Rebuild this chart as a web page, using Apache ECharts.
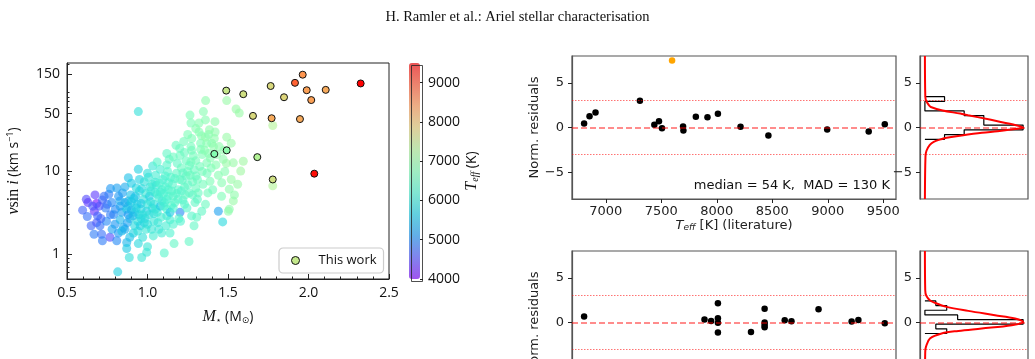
<!DOCTYPE html>
<html>
<head>
<meta charset="utf-8">
<script src="https://cdn.jsdelivr.net/npm/echarts@6.0.0/dist/echarts.min.js"></script>
<style>
html, body { margin: 0; padding: 0; background: #fff; }
#main { width: 1035px; height: 359px; }
</style>
</head>
<body>
<div id="main"></div>
<script>
// left panel: literature sample, M*, v sin i, Teff (one line per mass column)
var bgMass = [
    0.597, 0.626, 0.62, 0.63, 0.65,
    0.674, 0.684, 0.67, 0.684, 0.668, 0.69, 0.66,
    0.705, 0.715, 0.72, 0.74, 0.73, 0.745, 0.70, 0.71, 0.72, 0.75,
    0.767, 0.778, 0.76, 0.79, 0.798, 0.78, 0.77, 0.77, 0.80,
    0.809, 0.815, 0.819, 0.829, 0.84, 0.83, 0.845, 0.81, 0.85, 0.84, 0.83, 0.82,
    0.86, 0.871, 0.871, 0.887, 0.881, 0.881, 0.87, 0.89, 0.895, 0.86, 0.875, 0.89, 0.88, 0.88, 0.86, 0.90,
    0.912, 0.943, 0.943, 0.943, 0.92, 0.935, 0.925, 0.94, 0.91, 0.93, 0.915, 0.948, 0.92, 0.90, 0.94, 0.90, 0.93, 0.95,
    0.964, 0.964, 0.995, 1.0, 0.96, 0.975, 0.985, 0.99, 0.955, 0.97, 0.98, 0.995, 0.96, 0.99, 0.95, 0.97, 0.98, 0.96,
    1.016, 1.032, 1.036, 1.01, 1.02, 1.04, 1.045, 1.03, 1.005, 1.025, 1.048, 1.012, 1.04, 1.0, 1.02, 1.03, 1.05, 1.0, 1.04, 1.0,
    1.078, 1.088, 1.104, 1.06, 1.07, 1.09, 1.065, 1.08, 1.095, 1.055, 1.085, 1.06, 1.09, 1.075, 1.06, 1.08, 1.07, 1.05, 1.10, 1.10,
    1.135, 1.12, 1.13, 1.14, 1.11, 1.145, 1.125, 1.105, 1.14, 1.115, 1.13, 1.148, 1.12, 1.11, 1.12, 1.13, 1.12, 1.14, 1.12,
    1.16, 1.165, 1.16, 1.177, 1.202, 1.155, 1.18, 1.19, 1.17, 1.185, 1.195, 1.16, 1.15, 1.16, 1.17, 1.18, 1.19,
    1.202, 1.225, 1.22, 1.23, 1.24, 1.21, 1.245, 1.235, 1.215, 1.24, 1.205, 1.25, 1.23, 1.20, 1.21, 1.22, 1.23, 1.20,
    1.258, 1.264, 1.27, 1.274, 1.274, 1.289, 1.26, 1.28, 1.29, 1.27, 1.295, 1.285, 1.265, 1.30, 1.275, 1.25, 1.26, 1.28, 1.27, 1.25,
    1.306, 1.32, 1.337, 1.347, 1.31, 1.325, 1.34, 1.33, 1.315, 1.345, 1.335, 1.30, 1.34, 1.32, 1.30, 1.31, 1.33, 1.30,
    1.361, 1.368, 1.368, 1.388, 1.399, 1.36, 1.38, 1.37, 1.39, 1.355, 1.385, 1.375, 1.395, 1.36, 1.38, 1.36,
    1.419, 1.44, 1.461, 1.41, 1.425, 1.43, 1.415, 1.44, 1.405, 1.445, 1.42,
    1.467, 1.492, 1.492, 1.502, 1.508, 1.508, 1.47, 1.48, 1.49, 1.46, 1.475,
    1.533, 1.533, 1.55, 1.57, 1.579, 1.595, 1.52, 1.54, 1.56, 1.52, 1.778, 1.778
];
var bgVsini = [
    3.4, 2.85, 4.6, 4.2, 2.2,
    5.2, 4.1, 3.3, 2.4, 1.74, 2.9, 3.8,
    2.2, 1.74, 4.5, 3.6, 5.0, 2.5, 3.8, 2.7, 1.45, 4.0,
    1.6, 4.2, 5.3, 3.0, 2.3, 2.0, 6.2, 3.0, 3.5,
    1.45, 0.61, 1.8, 4.4, 3.2, 2.6, 5.5, 6.3, 2.1, 1.9, 3.8, 5.0,
    2.0, 1.38, 1.17, 0.91, 4.4, 8.4, 3.5, 2.7, 5.2, 6.5, 2.4, 1.6, 3.0, 3.8, 4.2, 3.4,
    1.8, 1.34, 10.6, 53, 3.2, 4.0, 5.0, 2.5, 2.9, 6.3, 4.7, 3.0, 2.2, 7.2, 1.9, 4.3, 3.6, 8.0,
    0.91, 6.2, 1.05, 1.23, 3.5, 4.6, 2.7, 5.4, 2.2, 1.6, 7.5, 3.3, 4.1, 2.0, 5.8, 3.0, 2.4, 2.7,
    6.5, 11.6, 1.66, 3.0, 4.3, 2.5, 5.6, 3.6, 8.5, 2.0, 7.4, 5.0, 4.0, 4.0, 5.8, 7.0, 3.5, 2.3, 3.1, 9.5,
    10.6, 1.8, 1.03, 3.2, 4.8, 6.0, 2.4, 3.8, 8.0, 6.8, 2.8, 13, 4.4, 7.2, 5.3, 5.6, 2.0, 9.0, 3.8, 5.4,
    14, 3.5, 5.0, 2.6, 6.5, 8.5, 10, 4.2, 1.8, 2.2, 7.3, 3.9, 12, 8.8, 4.6, 6.0, 2.9, 3.2, 16.5,
    5.0, 1.34, 2.3, 20.7, 3.2, 7.0, 9.5, 6.0, 4.2, 12.5, 2.7, 15, 5.8, 3.6, 8.2, 5.4, 4.6,
    15.6, 23, 4.5, 6.5, 8.8, 11, 3.6, 5.2, 7.8, 13.5, 2.5, 10, 17, 8.0, 5.8, 9.6, 4.0, 19,
    1.42, 48, 38.6, 18, 2.9, 2.2, 5.5, 7.5, 10.5, 13, 4.2, 15.5, 9.0, 6.3, 25, 6.9, 11.8, 5.2, 20, 28,
    2.8, 38.6, 3.3, 53, 8, 11.5, 16, 22, 5.5, 7.0, 27, 13.5, 10, 30, 8.8, 4.6, 18.5, 33,
    72, 22, 12.7, 7.6, 22, 26, 28, 9.5, 14.5, 18, 32, 5.5, 11, 4.0, 16.5, 42,
    40, 3.3, 7.3, 20, 12, 16, 25, 9.0, 6.0, 20, 30,
    2.45, 72, 26, 3.3, 3.5, 6.1, 14, 10, 12.5, 5, 18,
    4.4, 12.7, 57, 51, 10.1, 13.3, 8, 5.2, 7, 22, 36, 6.7
];
var bgTeff = [
    4700, 4800, 4500, 4400, 4700,
    4400, 4100, 4300, 4600, 4900, 4700, 4600,
    4800, 4800, 4700, 4900, 4800, 5000, 4600, 4700, 4900, 4800,
    4500, 5000, 4900, 5000, 5100, 5200, 5100, 4900, 5000,
    5000, 5700, 5100, 5300, 5200, 5400, 5200, 5200, 5300, 5500, 5200, 5100,
    5300, 5400, 5600, 5900, 5400, 5500, 5600, 5700, 5500, 5300, 5200, 5500, 5100, 5500, 5300, 5400,
    5700, 5800, 5700, 5900, 5600, 5700, 5500, 5900, 5400, 5800, 5600, 5700, 5800, 5600, 5900, 5600, 5700, 5700,
    6000, 5800, 6000, 6000, 5800, 5900, 5800, 6000, 5700, 5900, 5900, 5700, 5600, 6000, 5800, 5900, 5800, 5800,
    5900, 6000, 6100, 5900, 6000, 6000, 6100, 5800, 6000, 6000, 6000, 5700, 5900, 5900, 6000, 6100, 6000, 5900, 5900, 5900,
    6100, 6100, 6300, 6000, 6100, 6200, 6000, 5600, 6100, 6000, 6100, 6300, 6000, 6200, 6100, 6100, 6000, 6100, 6100, 6200,
    6400, 6200, 6200, 6100, 6200, 6300, 6300, 6100, 6200, 6100, 6200, 6300, 6300, 6200, 6200, 6200, 6100, 5600, 6400,
    6300, 6400, 6200, 6500, 5000, 6300, 6400, 6300, 6300, 6400, 6300, 6500, 6300, 6200, 6300, 6300, 6300,
    6500, 6600, 6300, 6400, 6400, 6500, 6300, 6400, 6400, 6500, 6200, 6500, 6500, 6400, 6300, 6400, 6300, 6500,
    6400, 6700, 6700, 6600, 6300, 6400, 6400, 6500, 6500, 6600, 6400, 6600, 6500, 6500, 6700, 6400, 6500, 6400, 6600, 6700,
    6400, 6800, 6400, 6800, 6500, 6600, 6700, 6700, 6500, 6600, 6800, 6600, 6600, 6800, 6500, 6400, 6700, 6800,
    6900, 6800, 6700, 6700, 6800, 6900, 6800, 6600, 6800, 6800, 6900, 6600, 6700, 6500, 6800, 6800,
    6900, 5200, 6800, 6900, 6800, 6900, 6900, 6800, 6600, 6900, 6900,
    5800, 7000, 7000, 6900, 6900, 6900, 6900, 6800, 7000, 6700, 6900,
    7000, 7000, 7000, 7000, 7100, 7100, 7000, 6900, 7000, 7000, 7300, 7300
];

// left panel: "This work"
var ourMass = [1.489, 1.595, 1.765, 1.848, 1.916, 1.964, 1.989, 2.017, 2.107, 2.324, 1.655, 1.771, 1.947, 1.415, 1.492, 1.682, 1.778, 2.036];
var ourVsini = [95, 86, 108, 79, 118, 148, 96, 73, 97, 116, 47, 44, 43, 16.3, 18, 14.9, 8.0, 9.4];
var ourTeff = [7500, 7600, 7700, 7750, 8800, 8400, 8300, 8300, 8200, 9500, 7700, 8200, 8200, 6800, 6900, 7300, 7600, 9400];

// tick values
var vsiniMajor = [1, 10, 50, 150];
var vsiniMinor = [0.6, 0.7, 0.8, 0.9, 2, 3, 4, 5, 6, 7, 8, 9, 20, 30, 40, 60, 70, 80, 90, 200];
var teffTicks = [4000, 5000, 6000, 7000, 8000, 9000];
var litTicks = [7000, 7500, 8000, 8500, 9000, 9500];
var resTicks = [-5, 0, 5];

// top right: residuals vs literature Teff
var resTeff = [6804, 6853, 6907, 7307, 7437, 7479, 7506, 7696, 7699, 7811, 7916, 8010, 8214, 8465, 8995, 9369, 9514];
var resTop = [0.44, 1.26, 1.67, 3.0, 0.3, 0.7, -0.07, 0.1, -0.33, 1.2, 1.15, 1.55, 0.07, -0.89, -0.22, -0.44, 0.37];
var outlierTeff = [7597];
var outlierRes = [7.5];

// bottom right: residuals (x axis cut off)
var resBotX = [6804, 7889, 7949, 8010, 8010, 8010, 8010, 8308, 8431, 8431, 8431, 8431, 8612, 8673, 8917, 9215, 9276, 9514];
var resBot = [0.67, 0.34, 0.18, 2.16, 0.48, -0.04, -1.12, -1.05, 1.53, 0.0, -0.27, -0.53, 0.26, 0.15, 1.49, 0.11, 0.29, -0.08];

// histograms of the residuals
var histTopEdges = [-1.32, -0.79, -0.26, 0.27, 0.80, 1.33, 1.86, 2.39, 2.92, 3.45];
var histTopCounts = [1, 2, 5, 3, 3, 2, 0, 0, 1];
var histBotEdges = [-1.23, -0.71, -0.19, 0.33, 0.85, 1.37, 1.89, 2.41];
var histBotCounts = [2, 1, 9, 3, 0, 2, 1];

// fitted curves
var curveTopRes = [-8, -3.2, -2.6, -1.95, -1.6, -1.33, -1.15, -0.9, -0.59, -0.41, -0.22, 0, 0.33, 0.89, 1.37, 1.56, 1.9, 2.3, 2.5, 3.0, 3.5, 8];
var curveTopCount = [0, 0.03, 0.08, 0.25, 0.45, 0.8, 1.1, 1.85, 2.9, 3.7, 4.4, 5.0, 4.5, 3.3, 2.2, 1.8, 0.9, 0.3, 0.2, 0.06, 0.02, 0];
var curveBotRes = [-8, -3.3, -2.7, -1.8, -1.23, -0.94, -0.67, -0.3, 0.05, 0.45, 0.82, 1.3, 1.75, 2.2, 2.5, 3.0, 3.6, 8];
var curveBotCount = [0, 0.03, 0.1, 0.46, 1.53, 3.06, 5.2, 7.96, 9.0, 8.26, 6.42, 3.97, 1.99, 0.92, 0.45, 0.12, 0.03, 0];

// ---------------------------------------------------------------
var chart = echarts.init(document.getElementById('main'));

var leftFont = 'Open Sans';
var rightFont = 'DejaVu Sans';
var serif = 'Liberation Serif';

// matplotlib "rainbow"
var rainbow = ['#8000ff', '#4d4ffc', '#1a96f3', '#1acee3', '#4df3ce', '#80ffb4',
               '#b3f396', '#e6ce74', '#ff964f', '#ff4f28', '#ff0000'];
var rainbowPale = rainbow.map(function (c) {
    var r = parseInt(c.substr(1, 2), 16), g = parseInt(c.substr(3, 2), 16), b = parseInt(c.substr(5, 2), 16);
    return 'rgba(' + r + ',' + g + ',' + b + ',0.6)';
});

function zip3(a, b, c) {
    var out = [];
    for (var i = 0; i < a.length; i++) {
        out.push([a[i], Math.log10(b[i]), c[i]]);
    }
    return out;
}

function pairs(a, b) {
    var out = [];
    for (var i = 0; i < a.length; i++) {
        out.push([a[i], b[i]]);
    }
    return out;
}

// step outline of a horizontal histogram
function stepOutline(edges, counts) {
    var pts = [[0, edges[0]]];
    for (var i = 0; i < counts.length; i++) {
        pts.push([counts[i], edges[i]]);
        pts.push([counts[i], edges[i + 1]]);
    }
    pts.push([0, edges[edges.length - 1]]);
    return pts;
}

function resLabel(v) {
    return v < 0 ? '\u2212' + Math.abs(v) : String(v);
}

function plain(v) {
    return String(v);
}

function refLines() {
    return {
        silent: true,
        symbol: ['none', 'none'],
        label: { show: false },
        animation: false,
        data: [
            { yAxis: 0, lineStyle: { color: 'rgba(255,0,0,0.6)', type: [6, 3], width: 1.5 } },
            { yAxis: 3, lineStyle: { color: 'rgba(255,0,0,0.55)', type: [1.5, 1.5], width: 1.2 } },
            { yAxis: -3, lineStyle: { color: 'rgba(255,0,0,0.55)', type: [1.5, 1.5], width: 1.2 } }
        ]
    };
}

function resYAxis(grid, withName) {
    return {
        gridIndex: grid, type: 'value', min: -8, max: 8,
        axisLine: { show: true, onZero: false, lineStyle: { color: '#555', width: 1.2 } },
        splitLine: { show: false },
        axisTick: { customValues: resTicks, length: 4, lineStyle: { color: '#222' } },
        axisLabel: { customValues: resTicks, formatter: resLabel, margin: 8,
                     fontFamily: rightFont, fontSize: 13, color: '#222' },
        name: withName ? 'Norm. residuals' : '',
        nameLocation: 'middle', nameGap: 27,
        nameTextStyle: { fontFamily: rightFont, fontSize: 13, color: '#222' }
    };
}

function litXAxis(grid, withName) {
    return {
        gridIndex: grid, type: 'value', min: 6695, max: 9615,
        axisLine: { show: true, onZero: false, lineStyle: { color: '#555', width: 1.2 } },
        splitLine: { show: false },
        axisTick: { customValues: litTicks, length: 4, lineStyle: { color: '#222' } },
        axisLabel: { customValues: litTicks, formatter: plain, margin: 6,
                     fontFamily: rightFont, fontSize: 13, color: '#222' },
        name: withName ? '{it|T}{sub|eff} [K] (literature)' : '',
        nameLocation: 'middle', nameGap: 17,
        nameTextStyle: {
            fontFamily: rightFont, fontSize: 13, color: '#222',
            rich: {
                it: { fontFamily: rightFont, fontStyle: 'italic', fontSize: 13, color: '#222' },
                sub: { fontFamily: rightFont, fontStyle: 'italic', fontSize: 9, color: '#222', verticalAlign: 'bottom' }
            }
        }
    };
}

function countXAxis(grid, lo, hi) {
    return {
        gridIndex: grid, type: 'value', min: lo, max: hi,
        axisLine: { show: false, onZero: false }, axisTick: { show: false },
        axisLabel: { show: false }, splitLine: { show: false }
    };
}

function panel(left, top, width, height, extra) {
    var g = { left: left, top: top, width: width, height: height, outerBoundsMode: 'none', containLabel: false };
    return Object.assign(g, extra || {});
}

var rightFrame = { show: true, borderColor: '#555', borderWidth: 1.2 };

var option = {
    animation: false,
    backgroundColor: '#fff',
    title: {
        text: 'H. Ramler et al.: Ariel stellar characterisation',
        left: 'center', top: 5,
        textStyle: { fontFamily: serif, fontSize: 14.5, fontWeight: 'normal', color: '#111' }
    },
    grid: [
        panel(67, 63, 322, 216, { show: true, borderColor: '#222', borderWidth: 1 }),
        panel(409, 63, 11, 216),
        panel(572, 56, 324, 143, rightFrame),
        panel(920, 56, 108, 143, rightFrame),
        panel(572, 251, 324, 143, rightFrame),
        panel(920, 251, 108, 143, rightFrame)
    ],
    legend: {
        left: 279, top: 248,
        data: [{ name: 'This work', icon: 'circle',
                 itemStyle: { color: '#c4e88c', borderColor: '#111', borderWidth: 1, opacity: 1 } }],
        itemWidth: 8, itemHeight: 8,
        padding: [6, 7, 6, 12],
        borderColor: '#ccc', borderWidth: 1.2, borderRadius: 4,
        backgroundColor: 'rgba(255,255,255,0.8)',
        selectedMode: false,
        textStyle: { fontFamily: leftFont, fontSize: 13, color: '#111', padding: [0, 0, 0, 14] }
    },
    visualMap: [
        {
            type: 'continuous', show: true, seriesIndex: 0, dimension: 2,
            min: 4000, max: 9500, calculable: false, orient: 'vertical',
            left: 409, top: 63, padding: 0, itemWidth: 11, itemHeight: 216,
            inRange: { color: rainbowPale }
        },
        {
            type: 'continuous', show: false, seriesIndex: 1, dimension: 2,
            min: 4000, max: 9500, inRange: { color: rainbow }
        }
    ],
    xAxis: [
        {
            gridIndex: 0, type: 'value', min: 0.5, max: 2.5, interval: 0.5,
            axisLine: { show: true, onZero: false, lineStyle: { color: '#222' } },
            splitLine: { show: false },
            axisTick: { inside: true, length: 5, lineStyle: { color: '#222' } },
            minorTick: { show: true, splitNumber: 5, length: 2.5, lineStyle: { color: '#222' } },
            axisLabel: { formatter: function (v) { return v.toFixed(1); }, margin: 7,
                         fontFamily: leftFont, fontSize: 14, color: '#111' },
            name: '{it|M}{sub|\u22c6} (M{sub|\u2299})',
            nameLocation: 'middle', nameGap: 30,
            nameTextStyle: {
                fontFamily: leftFont, fontSize: 14, color: '#111',
                rich: {
                    it: { fontFamily: serif, fontStyle: 'italic', fontSize: 16, color: '#111' },
                    sub: { fontFamily: 'DejaVu Sans', fontSize: 9, color: '#111', verticalAlign: 'bottom' }
                }
            }
        },
        { gridIndex: 1, type: 'value', min: 0, max: 1, show: false },
        litXAxis(2, true),
        countXAxis(3, -0.25, 5.25),
        litXAxis(4, false),
        countXAxis(5, -0.45, 9.45)
    ],
    yAxis: [
        {
            gridIndex: 0, type: 'value', min: Math.log10(0.5), max: Math.log10(205),
            axisLine: { show: true, onZero: false, lineStyle: { color: '#222' } },
            splitLine: { show: false },
            axisTick: { inside: true, length: 5, customValues: vsiniMajor.map(Math.log10), lineStyle: { color: '#222' } },
            axisLabel: {
                customValues: vsiniMajor.map(Math.log10),
                formatter: function (v) { return String(Math.round(Math.pow(10, v))); },
                margin: 7, fontFamily: leftFont, fontSize: 14, color: '#111'
            },
            name: '{it|v}{rm|sin}{it| i} (km s{sup|\u22121})',
            nameLocation: 'middle', nameGap: 45,
            nameTextStyle: {
                fontFamily: leftFont, fontSize: 14, color: '#111',
                rich: {
                    it: { fontFamily: serif, fontStyle: 'italic', fontSize: 16, color: '#111' },
                    rm: { fontFamily: serif, fontSize: 16, color: '#111' },
                    sup: { fontFamily: leftFont, fontSize: 9, color: '#111', verticalAlign: 'top' }
                }
            }
        },
        {
            gridIndex: 1, type: 'value', position: 'right', min: 4000, max: 9500,
            axisLine: { show: false, onZero: false }, splitLine: { show: false },
            axisTick: { customValues: teffTicks, length: 3, lineStyle: { color: '#222' } },
            axisLabel: { customValues: teffTicks, formatter: plain, margin: 8,
                         fontFamily: leftFont, fontSize: 14, color: '#111' },
            name: '{it|T}{sub|eff} (K)',
            nameLocation: 'middle', nameRotate: 90, nameGap: 31,
            nameTextStyle: {
                fontFamily: leftFont, fontSize: 14, color: '#111',
                rich: {
                    it: { fontFamily: serif, fontStyle: 'italic', fontSize: 16, color: '#111' },
                    sub: { fontFamily: serif, fontStyle: 'italic', fontSize: 10, color: '#111', verticalAlign: 'bottom' }
                }
            }
        },
        resYAxis(2, true),
        resYAxis(3, false),
        resYAxis(4, true),
        resYAxis(5, false),
        {
            gridIndex: 0, type: 'value', position: 'left', offset: 0,
            min: Math.log10(0.5), max: Math.log10(205),
            axisLine: { show: false, onZero: false }, splitLine: { show: false }, axisLabel: { show: false },
            axisTick: { inside: true, length: 2.5, customValues: vsiniMinor.map(Math.log10), lineStyle: { color: '#222' } }
        }
    ],
    graphic: [
        {
            type: 'text', right: 145, top: 179, z: 50,
            style: { text: 'median = 54 K,  MAD = 130 K', font: '13px "DejaVu Sans"', fill: '#111' }
        },
        {
            type: 'rect', left: 409, top: 63, z: 50, silent: true,
            shape: { x: 0, y: 0, width: 11, height: 216 },
            style: { fill: null, stroke: '#222', lineWidth: 0.8 }
        }
    ],
    series: [
        {
            type: 'scatter', name: 'literature', xAxisIndex: 0, yAxisIndex: 0,
            symbolSize: 9, data: zip3(bgMass, bgVsini, bgTeff), silent: true,
            itemStyle: { opacity: 1 }
        },
        {
            type: 'scatter', name: 'This work', xAxisIndex: 0, yAxisIndex: 0,
            symbolSize: 7, data: zip3(ourMass, ourVsini, ourTeff), silent: true,
            itemStyle: { borderColor: '#111', borderWidth: 1, opacity: 1 }
        },
        {
            type: 'scatter', xAxisIndex: 2, yAxisIndex: 2, symbolSize: 6.5, silent: true,
            itemStyle: { color: '#000', opacity: 1 }, data: pairs(resTeff, resTop), markLine: refLines()
        },
        {
            type: 'scatter', xAxisIndex: 2, yAxisIndex: 2, symbolSize: 6.5, silent: true,
            itemStyle: { color: '#ffa500', opacity: 1 }, data: pairs(outlierTeff, outlierRes)
        },
        {
            type: 'line', xAxisIndex: 3, yAxisIndex: 3, showSymbol: false, silent: true,
            lineStyle: { color: '#000', width: 1.2 }, data: stepOutline(histTopEdges, histTopCounts),
            markLine: refLines()
        },
        {
            type: 'line', xAxisIndex: 3, yAxisIndex: 3, showSymbol: false, silent: true, smooth: 0.35,
            lineStyle: { color: '#ff0000', width: 2 }, data: pairs(curveTopCount, curveTopRes)
        },
        {
            type: 'scatter', xAxisIndex: 4, yAxisIndex: 4, symbolSize: 6.5, silent: true,
            itemStyle: { color: '#000', opacity: 1 }, data: pairs(resBotX, resBot), markLine: refLines()
        },
        {
            type: 'line', xAxisIndex: 5, yAxisIndex: 5, showSymbol: false, silent: true,
            lineStyle: { color: '#000', width: 1.2 }, data: stepOutline(histBotEdges, histBotCounts),
            markLine: refLines()
        },
        {
            type: 'line', xAxisIndex: 5, yAxisIndex: 5, showSymbol: false, silent: true, smooth: 0.35,
            lineStyle: { color: '#ff0000', width: 2 }, data: pairs(curveBotCount, curveBotRes)
        }
    ]
};

chart.setOption(option);
</script>
</body>
</html>
